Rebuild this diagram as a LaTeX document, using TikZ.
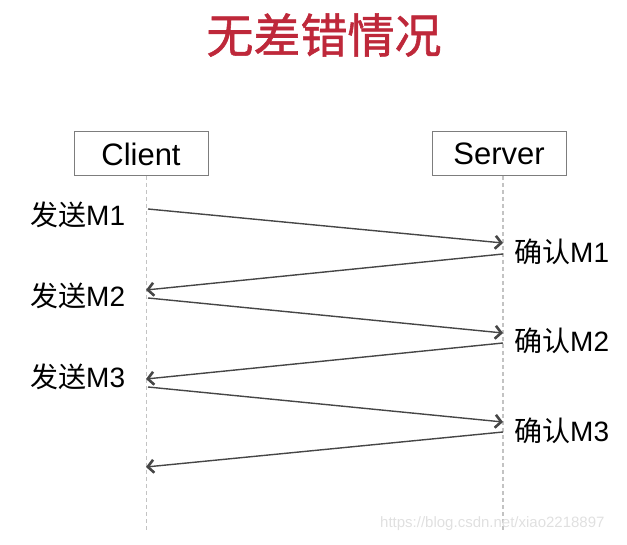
\documentclass[tikz,border=0pt]{standalone}
\usepackage{fontspec}
\setmainfont{Liberation Sans}
\newfontfamily\cjk{Noto Sans CJK SC}
\newfontfamily\cjktitle[FakeBold=1.2]{Noto Sans CJK SC}
\usetikzlibrary{arrows.meta}
\definecolor{titlered}{RGB}{190,40,58}
\definecolor{boxgray}{RGB}{125,125,125}
\definecolor{lifegray}{RGB}{195,195,195}
\definecolor{msggray}{RGB}{70,70,70}
\newcommand{\zh}[1]{{\cjk #1}}
\begin{document}
\begin{tikzpicture}[x=1pt,y=-1pt,
  actor/.style={draw=boxgray,line width=1pt,minimum width=134pt,minimum height=44pt,inner sep=0pt,font=\fontsize{31}{34}\selectfont},
  lifeline/.style={draw=lifegray,line width=1.3pt,dash pattern=on 4pt off 3pt},
  msg/.style={draw=msggray,line width=1.4pt,-{Straight Barb[length=6pt,width=13pt,line width=2.6pt]}},
  lbl/.style={font=\fontsize{28}{31}\selectfont,inner sep=0pt}]
\useasboundingbox (0,0) rectangle (627,545);
\node[font=\cjktitle\fontsize{47}{52}\selectfont,text=titlered] (title) at (324,35) {无差错情况};
\node[actor] (client) at (141,154) {Client};
\node[actor] (server) at (499,154) {Server};
\coordinate (ctop) at (146.5,176);
\coordinate (cbot) at (146.5,531);
\coordinate (stop) at (503,176);
\coordinate (sbot) at (503,531);
\draw[lifeline] (ctop) -- (cbot);
\draw[lifeline] (stop) -- (sbot);
% message end points
\coordinate (c1) at (148,209);
\coordinate (s1) at (503,243);
\coordinate (s1b) at (503,254);
\coordinate (c2) at (146,290);
\coordinate (c2b) at (148,298);
\coordinate (s2) at (503,333);
\coordinate (s2b) at (503,343);
\coordinate (c3) at (146,379);
\coordinate (c3b) at (148,387);
\coordinate (s3) at (503,422);
\coordinate (s3b) at (503,432);
\coordinate (c4) at (146,467);
\draw[msg] (c1) -- (s1);
\draw[msg] (s1b) -- (c2);
\draw[msg] (c2b) -- (s2);
\draw[msg] (s2b) -- (c3);
\draw[msg] (c3b) -- (s3);
\draw[msg] (s3b) -- (c4);
\node[lbl,anchor=west] (l1) at (30,215) {\zh{发送}M1};
\node[lbl,anchor=west] (l2) at (30,296) {\zh{发送}M2};
\node[lbl,anchor=west] (l3) at (30,377) {\zh{发送}M3};
\node[lbl,anchor=west] (r1) at (514,252) {\zh{确认}M1};
\node[lbl,anchor=west] (r2) at (514,341) {\zh{确认}M2};
\node[lbl,anchor=west] (r3) at (514,431) {\zh{确认}M3};
\node[font=\fontsize{15}{17}\selectfont,text=black!12,anchor=west,inner sep=0pt] (wm) at (380,524) {https://blog.csdn.net/xiao2218897};
\end{tikzpicture}
\end{document}
